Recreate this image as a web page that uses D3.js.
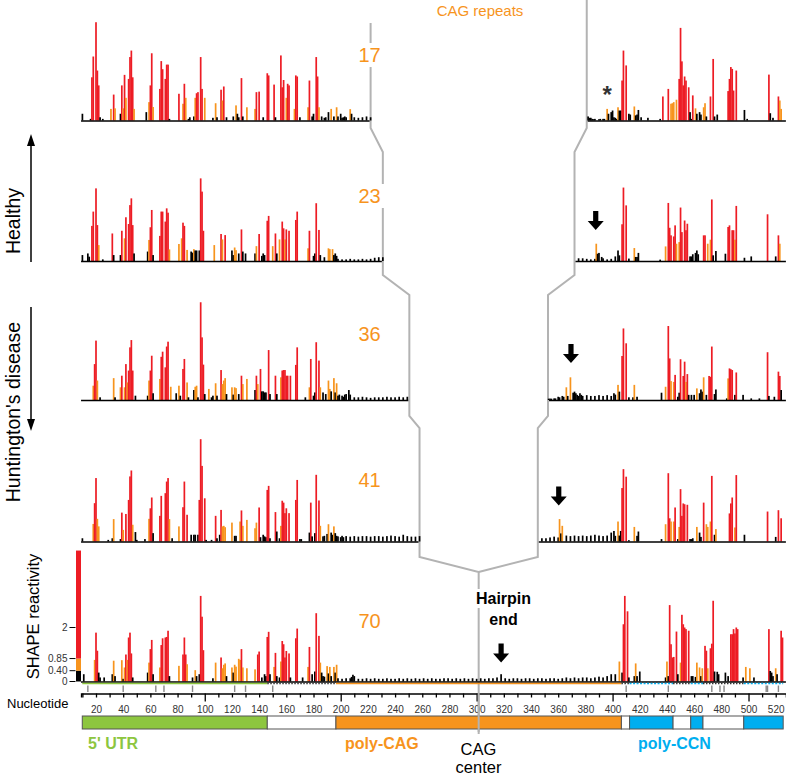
<!DOCTYPE html>
<html><head><meta charset="utf-8">
<script src="https://cdn.jsdelivr.net/npm/d3@7"></script>
<style>body{margin:0;background:#fff}svg{display:block}text{font-family:"Liberation Sans",Arial,Helvetica,sans-serif}</style>
</head><body><svg id="c" width="786" height="777"></svg>
<script>
// ---------------- DATA ----------------
const repeats = [17, 23, 36, 41, 70];
// sparse SHAPE reactivities [nucleotide (display numbering), value], 5' side
const p17 = [[10,0.25],[16,0.06],[17,1.6],[18,2.37],[20,3.64],[21,1.85],[22,1.3],[23,0.12],[25,0.06],[31,0.43],[33,0.96],[34,0.45],[38,0.25],[39,1.3],[40,0.45],[41,1.69],[42,0.84],[44,1.54],[45,2.35],[46,2.59],[47,1.6],[48,0.43],[57,0.31],[59,0.68],[60,1.3],[61,2.49],[62,0.5],[67,1.17],[68,2.2],[69,1.9],[71,1.54],[72,2.07],[73,2.07],[74,0.06],[81,0.99],[84,0.62],[85,1.36],[86,0.84],[88,0.06],[89,0.12],[92,0.15],[93,0.84],[94,1.01],[95,1.05],[97,2.35],[98,1.17],[100,0.84],[106,0.1],[108,0.64],[109,0.12],[112,1.14],[113,0.74],[114,1.26],[116,0.12],[121,0.15],[123,0.56],[124,0.25],[125,0.12],[127,1.57],[128,0.15],[131,0.49],[137,0.43],[138,1.05],[140,1.07],[143,0.12],[146,1.75],[147,1.67],[151,1.33],[152,0.12],[156,2.41],[157,1.23],[158,1.5],[160,0.84],[161,1.36],[162,1.3],[166,0.43],[167,1.67],[168,1.63],[170,0.12],[176,0.49],[177,1.48],[179,0.15],[180,0.25],[182,2.35],[183,1.63],[184,0.49],[186,0.15],[188,0.1],[189,0.12],[191,0.31],[193,0.43],[195,0.15],[197,0.49],[198,0.15],[200,0.25],[202,0.12],[203,0.15],[207,0.42],[208,0.25]];
const p23 = [[10,0.22],[14,0.28],[15,0.16],[17,1.3],[18,1.83],[20,2.69],[21,1.33],[22,0.59],[25,0.06],[32,1.02],[33,0.22],[38,0.22],[39,1.12],[41,0.84],[42,1.62],[44,1.37],[45,2.07],[46,2.32],[47,1.33],[48,0.28],[58,0.35],[59,0.78],[60,1.25],[61,1.89],[62,0.22],[67,0.93],[68,1.83],[69,1.83],[71,1.46],[72,1.95],[73,1.79],[74,0.43],[81,0.63],[83,0.84],[84,1.42],[85,1.3],[87,0.41],[90,0.35],[91,0.31],[92,0.44],[93,0.39],[94,0.39],[96,0.39],[97,3.06],[98,2.57],[99,1.12],[107,0.59],[112,1.0],[113,0.8],[115,0.96],[120,0.39],[121,0.22],[122,0.5],[123,0.4],[125,0.28],[127,1.17],[128,0.35],[130,0.28],[137,0.28],[138,0.55],[140,1.0],[142,0.19],[143,0.28],[144,0.22],[146,1.49],[147,1.67],[150,0.55],[152,1.02],[153,0.28],[155,0.8],[157,1.46],[158,1.21],[159,0.8],[160,1.17],[162,1.12],[167,1.52],[168,1.83],[176,0.47],[177,1.12],[180,0.19],[181,0.28],[182,2.14],[184,1.15],[185,0.22],[188,0.14],[191,0.47],[192,0.44],[194,0.44],[195,0.22],[196,0.28],[197,0.19]];
const p36 = [[18,0.53],[19,1.33],[20,2.2],[21,0.72],[23,0.1],[33,0.81],[34,0.1],[38,0.47],[39,0.9],[41,0.47],[42,1.33],[43,0.65],[44,1.09],[45,1.95],[46,2.22],[47,1.09],[49,0.16],[58,0.16],[59,0.72],[60,1.09],[61,1.64],[62,0.25],[67,0.78],[68,1.6],[69,1.79],[71,1.21],[72,1.98],[73,2.16],[75,0.49],[79,0.25],[81,0.53],[82,0.16],[84,1.15],[85,1.52],[87,0.65],[88,0.1],[92,0.37],[93,0.49],[94,0.53],[95,0.1],[97,3.62],[98,2.32],[99,1.31],[100,0.22],[103,0.41],[105,0.1],[106,0.16],[108,0.62],[109,0.16],[112,1.11],[113,0.59],[114,0.72],[115,0.81],[116,0.22],[120,0.47],[121,0.2],[122,0.47],[123,0.44],[125,0.22],[127,0.9],[128,0.59],[131,0.78],[137,0.37],[138,0.9],[139,0.59],[141,1.15],[142,0.32],[143,0.32],[144,0.28],[145,0.28],[147,1.85],[148,0.22],[152,0.9],[153,0.22],[156,0.84],[157,1.09],[158,1.11],[159,1.11],[160,0.9],[161,0.9],[163,0.9],[167,1.3],[168,1.95],[174,0.1],[177,0.47],[178,1.52],[180,0.16],[181,0.28],[182,2.14],[184,1.46],[185,0.47],[187,0.28],[189,0.22],[191,0.72],[192,0.41],[193,0.32],[195,0.81],[196,0.28],[197,0.62],[198,0.16],[199,0.2],[201,0.16],[202,0.12],[203,0.2],[204,0.22],[206,0.37],[207,0.2]];
const p41 = [[10,0.12],[18,0.65],[19,1.42],[20,2.35],[21,0.84],[22,0.56],[29,0.06],[32,0.12],[33,0.83],[38,0.09],[39,1.07],[40,0.43],[42,1.02],[44,1.54],[45,2.41],[46,2.63],[47,0.62],[49,0.35],[50,0.06],[56,0.09],[59,0.84],[60,1.23],[61,1.63],[62,0.31],[67,0.95],[68,1.69],[71,1.79],[72,2.22],[73,2.35],[74,0.83],[76,0.12],[81,0.56],[84,1.27],[85,2.22],[87,0.99],[90,0.25],[92,0.25],[93,0.25],[95,0.25],[96,1.54],[97,3.79],[98,2.8],[100,1.6],[101,0.06],[105,0.06],[108,0.95],[109,0.12],[111,0.25],[112,1.17],[113,0.56],[114,0.58],[115,0.53],[120,0.7],[122,0.21],[123,0.21],[126,0.74],[127,1.15],[128,0.58],[131,0.8],[137,0.49],[138,0.7],[140,1.26],[141,0.16],[143,0.25],[144,0.19],[145,0.16],[146,1.91],[147,2.06],[148,0.12],[152,1.09],[153,0.37],[155,0.12],[156,0.58],[157,1.51],[158,1.44],[159,1.05],[160,1.23],[162,1.05],[167,1.54],[168,2.28],[170,0.09],[171,0.09],[177,0.33],[178,1.44],[179,0.19],[181,0.31],[182,2.47],[184,1.52],[185,0.58],[187,0.19],[188,0.21],[190,0.28],[191,0.64],[193,0.33],[194,0.25],[195,0.56],[196,0.31],[197,0.21],[198,0.19],[200,0.16],[201,0.21],[202,0.16]];
const p70 = [[11,0.27],[19,0.8],[20,1.81],[21,1.14],[22,0.33],[23,0.15],[26,0.15],[32,0.27],[33,0.77],[34,0.2],[39,0.79],[40,0.1],[41,0.52],[42,1.0],[43,0.8],[44,1.63],[45,1.81],[46,1.04],[47,0.15],[58,0.33],[59,0.7],[60,1.2],[61,1.54],[62,0.27],[67,0.52],[68,1.35],[69,1.6],[71,1.63],[72,1.65],[73,1.88],[74,0.2],[81,0.58],[84,1.0],[85,1.63],[86,1.0],[87,0.64],[91,0.15],[93,0.42],[94,0.2],[96,0.27],[97,3.17],[98,2.4],[99,1.16],[106,0.12],[108,0.7],[112,0.89],[113,0.49],[114,0.62],[115,0.67],[116,0.2],[120,0.52],[121,0.33],[122,0.62],[123,0.55],[125,0.84],[126,0.8],[127,1.2],[128,0.52],[131,0.49],[137,0.45],[139,1.0],[140,1.11],[142,0.15],[144,0.27],[145,0.2],[146,1.65],[147,1.84],[148,0.27],[151,0.54],[152,1.06],[153,0.2],[155,0.15],[156,0.74],[157,1.5],[158,1.38],[159,0.89],[160,1.13],[162,1.04],[163,0.15],[167,1.6],[168,1.96],[172,0.15],[176,0.54],[177,1.28],[179,0.27],[181,0.37],[182,2.53],[184,1.69],[185,0.7],[186,0.33],[187,0.2],[188,0.18],[190,0.57],[191,0.3],[192,0.54],[193,0.2],[195,0.54],[196,0.33],[197,0.62],[208,0.17],[209,0.25],[210,0.2]];
// 3' side (display numbering of the 70-repeat construct)
const p17r = [[382,0.15],[383,0.1],[385,0.06],[386,0.05],[387,0.06],[391,0.06],[394,0.06],[396,0.43],[397,0.25],[399,0.31],[400,0.37],[401,0.12],[403,0.06],[404,0.49],[405,0.37],[406,0.37],[407,1.48],[408,2.59],[410,2.04],[412,0.25],[413,0.22],[416,0.52],[417,0.19],[418,0.22],[419,0.39],[421,0.12],[426,0.1],[435,0.06],[437,0.89],[441,1.17],[443,0.62],[444,0.64],[445,0.68],[447,0.77],[449,1.54],[450,3.43],[451,2.19],[452,1.3],[453,1.63],[454,1.48],[456,1.23],[457,0.31],[458,0.06],[459,0.93],[461,0.45],[462,0.25],[464,0.31],[465,0.22],[467,0.49],[468,0.64],[469,0.15],[472,0.89],[474,2.28],[475,0.15],[477,0.22],[485,1.09],[486,1.54],[487,1.98],[488,1.91],[489,1.11],[491,1.85],[497,0.39],[499,0.06],[515,1.7],[516,0.27],[518,0.1],[522,0.89],[523,0.74],[524,0.43]];
const p23r = [[388,0.64],[389,0.27],[390,0.3],[392,0.15],[402,0.17],[404,0.39],[405,0.21],[407,1.36],[408,2.72],[410,2.06],[412,0.09],[416,0.48],[417,0.15],[418,0.15],[419,0.3],[435,0.05],[439,0.54],[441,2.15],[442,1.23],[443,0.95],[445,0.91],[446,1.32],[447,0.64],[449,0.7],[450,1.98],[451,1.07],[453,1.5],[454,1.14],[455,1.38],[457,0.17],[458,0.17],[459,0.25],[461,0.3],[462,0.39],[463,0.25],[467,0.95],[468,0.95],[470,0.64],[472,0.79],[473,2.28],[474,0.21],[476,0.37],[483,0.27],[485,1.26],[486,1.32],[488,1.14],[489,1.14],[490,0.79],[491,2.04],[497,0.12],[502,0.17],[514,1.73],[520,0.17],[522,0.95],[523,0.64]];
const p36r = [[353,0.05],[355,0.05],[358,0.06],[360,0.12],[361,0.1],[363,0.15],[364,0.12],[366,0.47],[367,0.15],[369,0.84],[371,0.27],[372,0.31],[373,0.25],[374,0.19],[376,0.25],[377,0.19],[401,0.25],[404,0.56],[405,0.31],[407,1.63],[408,2.65],[410,2.1],[412,0.1],[415,0.1],[416,0.56],[418,0.12],[436,0.27],[439,0.49],[441,2.74],[442,1.54],[443,0.7],[445,0.67],[446,0.93],[448,0.12],[449,0.27],[450,1.51],[452,0.89],[453,1.42],[454,0.67],[455,0.96],[456,0.19],[458,0.19],[460,0.19],[462,0.43],[464,0.25],[465,0.39],[466,0.31],[467,0.84],[469,0.19],[471,0.89],[472,0.86],[473,1.98],[475,0.22],[476,0.39],[484,0.06],[485,0.8],[486,1.17],[487,1.14],[488,1.11],[490,0.19],[491,1.02],[496,0.19],[502,0.06],[508,0.06],[514,1.77],[515,0.15],[519,0.12],[522,1.05],[523,0.89],[524,0.37]];
const p41r = [[361,0.83],[362,0.3],[363,0.58],[399,0.33],[401,0.39],[402,0.21],[404,0.74],[406,0.39],[407,1.98],[408,2.68],[410,2.4],[412,0.05],[416,0.54],[418,0.21],[419,0.37],[436,0.09],[439,0.64],[441,2.53],[442,0.86],[443,0.74],[445,0.74],[446,1.26],[448,0.09],[449,0.54],[450,1.94],[451,0.95],[452,1.41],[453,1.38],[455,1.36],[457,0.09],[458,0.09],[459,0.12],[462,0.54],[464,0.33],[465,0.17],[467,1.44],[469,0.64],[470,0.54],[472,0.74],[473,2.43],[475,0.25],[476,0.46],[486,1.04],[487,1.41],[488,1.63],[490,0.52],[491,2.46],[497,0.25],[514,1.11],[520,0.17],[522,1.16],[524,0.86]];
const p70r = [[318,0.27],[399,0.27],[402,0.27],[405,0.74],[407,0.33],[408,2.12],[409,3.17],[411,2.6],[412,0.15],[416,0.2],[417,0.67],[418,0.2],[420,0.37],[439,0.15],[440,0.74],[441,0.2],[442,2.83],[443,1.38],[444,0.89],[445,0.91],[447,1.85],[448,0.27],[450,0.7],[451,2.47],[452,2.12],[453,2.0],[454,1.94],[456,1.88],[458,0.2],[459,0.2],[461,0.17],[462,0.7],[464,0.52],[465,0.2],[466,0.49],[468,1.32],[469,1.14],[470,0.49],[472,1.23],[473,1.4],[474,2.99],[475,0.37],[477,0.36],[478,0.27],[483,0.33],[485,0.2],[487,1.75],[488,1.75],[489,1.94],[490,1.78],[491,2.0],[492,1.94],[496,0.15],[498,0.54],[501,0.49],[504,0.15],[515,1.94],[516,0.39],[517,0.33],[518,0.2],[520,0.49],[521,0.27],[524,1.88],[525,1.63]];
// reactivity of each CAG repeat (one value per repeat)
const cag17 = [0.12,0.1,0.12,0.15,0.12,0.1,0.12,0.15,0.12,0.1,0.06,0.05,0.06,0.05,0.06,0.1,0.12];
const cag23 = [0.08,0.06,0.06,0.08,0.06,0.06,0.08,0.06,0.08,0.12,0.14,0.14,0.1,0.1,0.08,0.06,0.08,0.2,0.1,0.06,0.08,0.1,0.2];
const cag36 = [0.12,0.1,0.12,0.15,0.1,0.1,0.12,0.1,0.08,0.1,0.1,0.1,0.12,0.1,0.1,0.12,0.1,0.12,0.05,0.06,0.1,0.12,0.15,0.2,0.2,0.15,0.15,0.18,0.15,0.15,0.18,0.15,0.18,0.15,0.2,0.22];
const cag41 = [0.2,0.16,0.2,0.18,0.2,0.18,0.2,0.2,0.18,0.2,0.2,0.18,0.2,0.22,0.2,0.18,0.25,0.2,0.18,0.18,0.2,0.12,0.12,0.15,0.18,0.15,0.2,0.22,0.2,0.22,0.2,0.22,0.2,0.22,0.25,0.22,0.2,0.22,0.2,0.25,0.22];
const cag70 = [0.12,0.1,0.12,0.12,0.15,0.1,0.1,0.12,0.1,0.12,0.1,0.1,0.12,0.1,0.1,0.12,0.1,0.12,0.1,0.12,0.1,0.12,0.1,0.12,0.1,0.1,0.12,0.12,0.1,0.12,0.1,0.12,0.1,0.12,0.1,
               0.12,0.1,0.12,0.12,0.15,0.27,0.12,0.1,0.12,0.12,0.1,0.12,0.12,0.1,0.12,0.12,0.1,0.12,0.12,0.1,0.12,0.15,0.12,0.15,0.12,0.15,0.15,0.12,0.15,0.18,0.15,0.2,0.18,0.25,0.22];
const tickLabels = [20,40,60,80,100,120,140,160,180,200,220,240,260,280,300,320,340,360,380,400,420,440,460,480,500,520];
const legendTicks = [0, 0.40, 0.85, 2];
const legendTickLabels = ["0","0.40","0.85","2"];
const thresholds = [0.40, 0.85];
const regionStart = [9.9, 146, 196.5, 406.5, 412.5, 444.5, 457.5, 466.5, 496.5];
const regionEnd   = [146, 196.5, 406.5, 412.5, 444.5, 457.5, 466.5, 496.5, 525.5];
const regionType  = ["utr","none","cag","none","ccn","none","ccn","none","ccn"];
const markerSites = [14,40,64,70,91,122,130,150,410,441,473,479,482,513,514,522];
const hairpinArrowNt = [null, 387.6, 369.4, 360.4, 318];

// ---------------- LAYOUT ----------------
const svg = d3.select("#c");
const RED="#ed1c24", ORANGE="#f7941d", GREEN="#8dc63f", BLUE="#00aeef", GREY="#b3b3b3";
const x = d3.scaleLinear().domain([9, 527.5]).range([81.05, 785.9]);
const baselines = [120.5, 261, 400, 541.5, 681.5];
const yOf = b => d3.scaleLinear().domain([0, 4]).range([b, b - 108]);
const color = v => v < thresholds[0] ? "#000" : (v < thresholds[1] ? ORANGE : RED);
const peaks = [[p17,p17r,cag17],[p23,p23r,cag23],[p36,p36r,cag36],[p41,p41r,cag41],[p70,p70r,cag70]];
const leftX = n => x(196.5 + 1.5*n), rightX = n => x(406.5 - 1.5*n);

// guide lines (CAG centre)
const gY = [[23,0,128],[152,152,275],[295,295,416],[428,428,557]];
const gLine = d3.line();
let Lp = [], Rp = [];
repeats.slice(0,4).forEach((n,i)=>{
  Lp.push([leftX(n), gY[i][0]], [leftX(n), gY[i][2]]);
  Rp.push([rightX(n), gY[i][1]], [rightX(n), gY[i][2]]);
});
const xc = leftX(70);
Lp.push([xc,572],[xc,732]); Rp.push([xc,572]);
svg.append("path").attr("d", gLine(Lp)).attr("fill","none").attr("stroke",GREY).attr("stroke-width",2);
svg.append("path").attr("d", gLine(Rp)).attr("fill","none").attr("stroke",GREY).attr("stroke-width",2);

// repeat number labels with white halo box
const numBase = [62, 203, 341, 487, 628];
repeats.forEach((n,i)=>{
  const g = svg.append("g");
  const t = g.append("text").attr("x",369.5).attr("y",numBase[i]).attr("text-anchor","middle")
    .attr("font-size",20).attr("fill",ORANGE).text(n);
  const bb = t.node().getBBox();
  g.insert("rect","text").attr("x",bb.x-7).attr("y",bb.y-1).attr("width",bb.width+14).attr("height",bb.height+2).attr("fill","#fff");
});
svg.append("text").attr("x",480).attr("y",16).attr("text-anchor","middle").attr("font-size",15).attr("fill",ORANGE).text("CAG repeats");

// bars
repeats.forEach((n,i)=>{
  const [left,right,cag] = peaks[i];
  const y = yOf(baselines[i]);
  const split = 196.5 + 1.5*n;
  const m = new Map();
  cag.forEach((v,k)=>{ const nt = 197 + 3*k + 1; m.set(nt <= split ? nt : nt + 3*(70-n), v); });
  left.forEach(([nt,v])=>m.set(nt,v));
  right.forEach(([nt,v])=>m.set(nt,v));
  const data = Array.from(m, ([nt,v])=>({nt,v})).sort((a,b)=>a.nt-b.nt);
  const g = svg.append("g");
  g.selectAll("rect").data(data).join("rect")
    .attr("x", d=>x(d.nt)-0.85).attr("width",1.7)
    .attr("y", d=>y(d.v)).attr("height", d=>y(0)-y(d.v))
    .attr("fill", d=>color(d.v));
  // baseline(s)
  const b = baselines[i] + 0.5;
  const bl = svg.append("g").attr("stroke","#000").attr("stroke-width",1.3);
  if (n < 70) {
    bl.append("line").attr("x1",x(9)).attr("x2",leftX(n)-1).attr("y1",b).attr("y2",b);
    bl.append("line").attr("x1",rightX(n)+1).attr("x2",x(527.5)).attr("y1",b).attr("y2",b);
  } else {
    bl.append("line").attr("x1",x(9)).attr("x2",x(527.5)).attr("y1",b).attr("y2",b);
  }
});

// hairpin-end arrows
function blockArrow(cx, yBot, h){
  const t = yBot - h, hh = 9;
  return `M${cx-2.6},${t}H${cx+2.6}V${yBot-hh}H${cx+8}L${cx},${yBot}L${cx-8},${yBot-hh}H${cx-2.6}Z`;
}
const arrowGap = [0, 31, 37, 36, 19];
[1,2,3,4].forEach(i=>{
  svg.append("path").attr("d", blockArrow(x(hairpinArrowNt[i]), baselines[i]-arrowGap[i], 19)).attr("fill","#000");
});
svg.append("text").attr("x",x(396)).attr("y",103).attr("text-anchor","middle").attr("font-size",24).attr("font-weight","bold").attr("fill","#333").text("*");

// Hairpin end label
const hp = svg.append("g");
const ht = hp.append("text").attr("x",503.5).attr("y",604).attr("text-anchor","middle").attr("font-size",16).attr("font-weight","bold").text("Hairpin");
const hbb = ht.node().getBBox();
hp.insert("rect","text").attr("x",hbb.x-3).attr("y",hbb.y-1).attr("width",hbb.width+6).attr("height",hbb.height+2).attr("fill","#fff");
hp.append("text").attr("x",503.5).attr("y",625).attr("text-anchor","middle").attr("font-size",16).attr("font-weight","bold").text("end");

// region line under bottom baseline + marker ticks
const rl = svg.append("g");
regionStart.forEach((s,i)=>{
  const t = regionType[i];
  rl.append("line").attr("x1",x(s)).attr("x2",x(regionEnd[i])).attr("y1",683.5).attr("y2",683.5)
    .attr("stroke", t==="utr"?GREEN:t==="cag"?ORANGE:t==="ccn"?BLUE:"#333")
    .attr("stroke-width",1.5)
    .attr("stroke-dasharray", t==="none"?"1.5,1.5":(t==="ccn"?"2,1.5":null));
});
svg.append("g").selectAll("line").data(markerSites).join("line")
  .attr("x1",d=>x(d)).attr("x2",d=>x(d)).attr("y1",685.5).attr("y2",692).attr("stroke","#888").attr("stroke-width",1.4);

// axis
const axG = svg.append("g").attr("transform","translate(0,693.5)");
axG.call(d3.axisBottom(x).tickValues(d3.range(10,521,10)).tickSizeOuter(0).tickSize(4)
  .tickFormat(d=>tickLabels.includes(d)?d:""));
axG.select(".domain").attr("stroke","#000").attr("stroke-width",1.4);
axG.selectAll(".tick line").attr("stroke","#000").attr("stroke-width",1.3).attr("y2",d=>d%100===0?8:4);
axG.selectAll(".tick text").attr("dy",null).attr("y",19).attr("font-size",10).attr("fill","#333")
  .attr("font-family",'"Liberation Sans",Arial,sans-serif');
svg.append("text").attr("x",7).attr("y",707.5).attr("font-size",13).text("Nucleotide");

// region bar
regionStart.forEach((s,i)=>{
  const t = regionType[i];
  svg.append("rect").attr("x",x(s)).attr("y",716).attr("width",x(regionEnd[i])-x(s)).attr("height",13)
    .attr("fill", t==="utr"?GREEN:t==="cag"?ORANGE:t==="ccn"?BLUE:"#fff")
    .attr("stroke","#555").attr("stroke-width",1);
});
svg.append("line").attr("x1",xc).attr("x2",xc).attr("y1",693).attr("y2",734).attr("stroke",GREY).attr("stroke-width",2);
svg.append("text").attr("x",88).attr("y",749).attr("font-size",16).attr("font-weight","bold").attr("fill",GREEN).text("5' UTR");
svg.append("text").attr("x",345).attr("y",749).attr("font-size",16).attr("font-weight","bold").attr("fill",ORANGE).text("poly-CAG");
svg.append("text").attr("x",638).attr("y",749).attr("font-size",16).attr("font-weight","bold").attr("fill",BLUE).text("poly-CCN");
svg.append("text").attr("x",478.5).attr("y",755).attr("text-anchor","middle").attr("font-size",16.5).text("CAG");
svg.append("text").attr("x",478.5).attr("y",773).attr("text-anchor","middle").attr("font-size",16.5).text("center");

// reactivity legend
const yL = yOf(baselines[4]);
const bins = [[0,thresholds[0],"#000"],[thresholds[0],thresholds[1],ORANGE],[thresholds[1],4.85,RED]];
svg.append("g").selectAll("rect").data(bins).join("rect")
  .attr("x",76).attr("width",5).attr("y",d=>yL(d[1])).attr("height",d=>yL(d[0])-yL(d[1])).attr("fill",d=>d[2]);
const lg = svg.append("g");
legendTicks.forEach((v,i)=>{
  lg.append("line").attr("x1",69.5).attr("x2",75.5).attr("y1",yL(v)).attr("y2",yL(v)).attr("stroke","#000").attr("stroke-width",1);
  lg.append("text").attr("x",67.5).attr("y",yL(v)+3.5).attr("text-anchor","end").attr("font-size",10).attr("fill","#333").text(legendTickLabels[i]);
});
svg.append("text").attr("transform","translate(39,616.5) rotate(-90)").attr("text-anchor","middle").attr("font-size",16.5).text("SHAPE reactivity");

// Healthy / Huntington's disease
svg.append("text").attr("transform","translate(20,221) rotate(-90)").attr("text-anchor","middle").attr("font-size",19.5).text("Healthy");
svg.append("text").attr("transform","translate(20,412) rotate(-90)").attr("text-anchor","middle").attr("font-size",19.5).text("Huntington's disease");
svg.append("line").attr("x1",31).attr("x2",31).attr("y1",262).attr("y2",144).attr("stroke","#000").attr("stroke-width",1.5);
svg.append("path").attr("d","M31,134L35,146L27,146Z").attr("fill","#000");
svg.append("line").attr("x1",31).attr("x2",31).attr("y1",307).attr("y2",421).attr("stroke","#000").attr("stroke-width",1.5);
svg.append("path").attr("d","M31,431L35,419L27,419Z").attr("fill","#000");
</script></body></html>
